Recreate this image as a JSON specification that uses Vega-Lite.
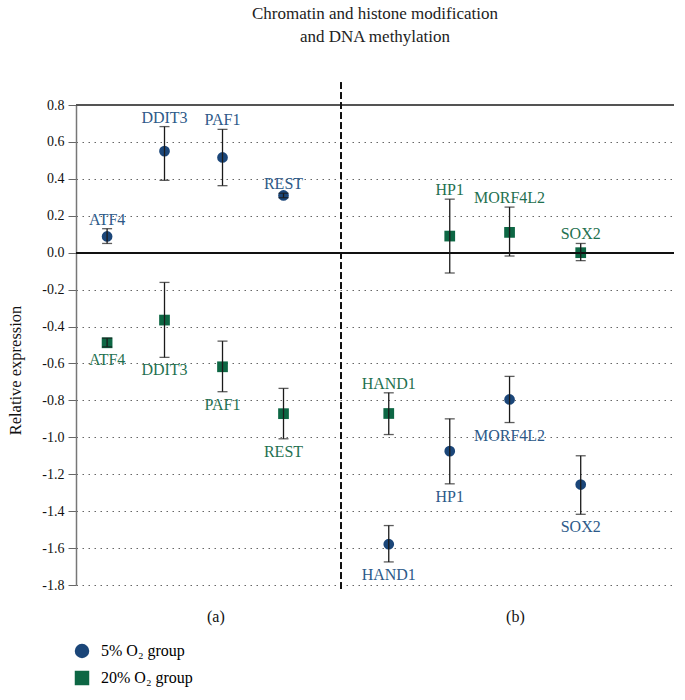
{
  "$schema": "https://vega.github.io/schema/vega-lite/v6.json",
  "width": 598,
  "height": 480,
  "autosize": "none",
  "padding": {"left": 76, "top": 105, "right": 11, "bottom": 115},
  "title": {
    "text": ["Chromatin and histone modification", "and DNA methylation"],
    "font": "Times New Roman",
    "fontSize": 17,
    "fontWeight": "normal",
    "lineHeight": 23,
    "offset": 36,
    "anchor": "middle",
    "color": "#222"
  },
  "config": {
    "view": {"stroke": null},
    "font": "Times New Roman",
    "locale": {"number": {"decimal": ".", "thousands": ",", "grouping": [3], "currency": ["$", ""], "minus": "-"}},
    "axis": {"labelFont": "Times New Roman", "titleFont": "Times New Roman", "labelOverlap": false},
    "legend": {"labelFont": "Times New Roman"}
  },
  "data": {
    "values": [
      {"gene": "ATF4", "group": "5% O₂ group", "slot": 0.52, "value": 0.088, "lo": 0.05, "hi": 0.13},
      {"gene": "DDIT3", "group": "5% O₂ group", "slot": 1.48, "value": 0.55, "lo": 0.392, "hi": 0.683},
      {"gene": "PAF1", "group": "5% O₂ group", "slot": 2.45, "value": 0.516, "lo": 0.363, "hi": 0.668},
      {"gene": "REST", "group": "5% O₂ group", "slot": 3.47, "value": 0.31, "lo": 0.298, "hi": 0.322},
      {"gene": "ATF4", "group": "20% O₂ group", "slot": 0.52, "value": -0.488, "lo": -0.51, "hi": -0.463},
      {"gene": "DDIT3", "group": "20% O₂ group", "slot": 1.48, "value": -0.365, "lo": -0.567, "hi": -0.161},
      {"gene": "PAF1", "group": "20% O₂ group", "slot": 2.45, "value": -0.618, "lo": -0.753, "hi": -0.479},
      {"gene": "REST", "group": "20% O₂ group", "slot": 3.47, "value": -0.872, "lo": -1.008, "hi": -0.735},
      {"gene": "HAND1", "group": "5% O₂ group", "slot": 5.23, "value": -1.579, "lo": -1.675, "hi": -1.478},
      {"gene": "HAND1", "group": "20% O₂ group", "slot": 5.23, "value": -0.871, "lo": -0.985, "hi": -0.759},
      {"gene": "HP1", "group": "5% O₂ group", "slot": 6.25, "value": -1.075, "lo": -1.252, "hi": -0.9},
      {"gene": "HP1", "group": "20% O₂ group", "slot": 6.25, "value": 0.09, "lo": -0.11, "hi": 0.29},
      {"gene": "MORF4L2", "group": "5% O₂ group", "slot": 7.25, "value": -0.795, "lo": -0.92, "hi": -0.67},
      {"gene": "MORF4L2", "group": "20% O₂ group", "slot": 7.25, "value": 0.11, "lo": -0.018, "hi": 0.247},
      {"gene": "SOX2", "group": "5% O₂ group", "slot": 8.44, "value": -1.256, "lo": -1.417, "hi": -1.1},
      {"gene": "SOX2", "group": "20% O₂ group", "slot": 8.44, "value": 0.0, "lo": -0.043, "hi": 0.05}
    ]
  },
  "encoding": {
    "x": {
      "field": "slot",
      "type": "quantitative",
      "scale": {"domain": [0, 10], "nice": false, "zero": false},
      "axis": {
        "values": [2.33, 7.34],
        "labelExpr": "datum.value < 5 ? '(a)' : '(b)'",
        "title": null,
        "domain": false,
        "ticks": false,
        "grid": false,
        "labelFont": "Times New Roman",
        "labelFontSize": 16,
        "labelPadding": 23,
        "labelColor": "#111"
      }
    }
  },
  "layer": [
    {
      "mark": {"type": "point", "filled": true, "opacity": 1, "strokeWidth": 0, "size": 115},
      "encoding": {
        "y": {
          "field": "value",
          "type": "quantitative",
          "scale": {"domain": [-1.8, 0.8], "nice": false, "zero": false},
          "axis": {
            "title": "Relative expression",
            "titleFont": "Times New Roman",
            "titleFontSize": 16.5,
            "titleFontWeight": "normal",
            "titleColor": "#111",
            "titleX": -53,
            "titleY": 265,
            "tickCount": 13,
            "format": ".1f",
            "labelOverlap": false,
            "labelFont": "Times New Roman",
            "labelFontSize": 14,
            "labelColor": "#111",
            "labelPadding": 4,
            "tickSize": 8,
            "tickColor": "#666",
            "domainColor": "#777",
            "domainWidth": 1.5,
            "grid": true,
            "gridDash": [1.5, 4.5],
            "gridColor": "#666",
            "gridWidth": 1
          }
        },
        "color": {
          "field": "group",
          "type": "nominal",
          "scale": {"domain": ["5% O₂ group", "20% O₂ group"], "range": ["#1b4679", "#0d6744"]},
          "legend": {
            "title": null,
            "orient": "none",
            "legendX": -2,
            "legendY": 538,
            "padding": 0,
            "symbolSize": 210,
            "symbolStrokeWidth": 0,
            "labelFont": "Times New Roman",
            "labelFontSize": 16,
            "labelOffset": 11,
            "rowPadding": 11,
            "encode": {"labels": {"update": {"fill": {"signal": "indexof(datum.label, '20%') >= 0 ? '#1f7150' : '#2d5a89'"}}}}
          }
        },
        "shape": {
          "field": "group",
          "type": "nominal",
          "scale": {"domain": ["5% O₂ group", "20% O₂ group"], "range": ["circle", "square"]},
          "legend": {
            "title": null,
            "orient": "none",
            "legendX": -2,
            "legendY": 538,
            "padding": 0,
            "symbolSize": 210,
            "symbolStrokeWidth": 0,
            "labelFont": "Times New Roman",
            "labelFontSize": 16,
            "labelOffset": 11,
            "rowPadding": 11,
            "encode": {"labels": {"update": {"fill": {"signal": "indexof(datum.label, '20%') >= 0 ? '#1f7150' : '#2d5a89'"}}}}
          }
        }
      }
    },
    {
      "mark": {"type": "rule", "color": "#555", "strokeWidth": 1.5},
      "encoding": {"y": {"datum": 0.8}, "x": {"datum": 0}, "x2": {"datum": 10}}
    },
    {
      "mark": {"type": "rule", "color": "#111", "strokeWidth": 1.5},
      "encoding": {"y": {"datum": 0}, "x": {"datum": 0}, "x2": {"datum": 10}}
    },
    {
      "mark": {"type": "rule", "color": "#111", "strokeWidth": 1.3, "strokeDash": [6, 4]},
      "encoding": {"x": {"datum": 4.43}, "y": {"datum": 0.92}, "y2": {"datum": -1.82}}
    },
    {
      "mark": {"type": "rule", "color": "#1a1a1a", "strokeWidth": 1.3},
      "encoding": {
        "y": {"field": "lo", "type": "quantitative"},
        "y2": {"field": "hi"}
      }
    },
    {
      "mark": {"type": "tick", "color": "#1a1a1a", "thickness": 1.3, "size": 10, "orient": "horizontal"},
      "encoding": {"y": {"field": "lo", "type": "quantitative"}}
    },
    {
      "mark": {"type": "tick", "color": "#1a1a1a", "thickness": 1.3, "size": 10, "orient": "horizontal"},
      "encoding": {"y": {"field": "hi", "type": "quantitative"}}
    },
    {
      "transform": [
        {"joinaggregate": [{"op": "max", "field": "value", "as": "vmax"}], "groupby": ["gene"]},
        {"filter": "datum.value === datum.vmax"}
      ],
      "mark": {"type": "text", "baseline": "alphabetic", "dy": -4, "fontSize": 16, "font": "Times New Roman"},
      "encoding": {
        "y": {"field": "hi", "type": "quantitative"},
        "text": {"field": "gene"},
        "color": {"condition": {"test": "datum.group === '5% O₂ group'", "value": "#2d5a89"}, "value": "#1f7150"}
      }
    },
    {
      "transform": [
        {"joinaggregate": [{"op": "max", "field": "value", "as": "vmax"}], "groupby": ["gene"]},
        {"filter": "datum.value < datum.vmax"}
      ],
      "mark": {"type": "text", "baseline": "top", "dy": 5, "fontSize": 16, "font": "Times New Roman"},
      "encoding": {
        "y": {"field": "lo", "type": "quantitative"},
        "text": {"field": "gene"},
        "color": {"condition": {"test": "datum.group === '5% O₂ group'", "value": "#2d5a89"}, "value": "#1f7150"}
      }
    }
  ]
}
